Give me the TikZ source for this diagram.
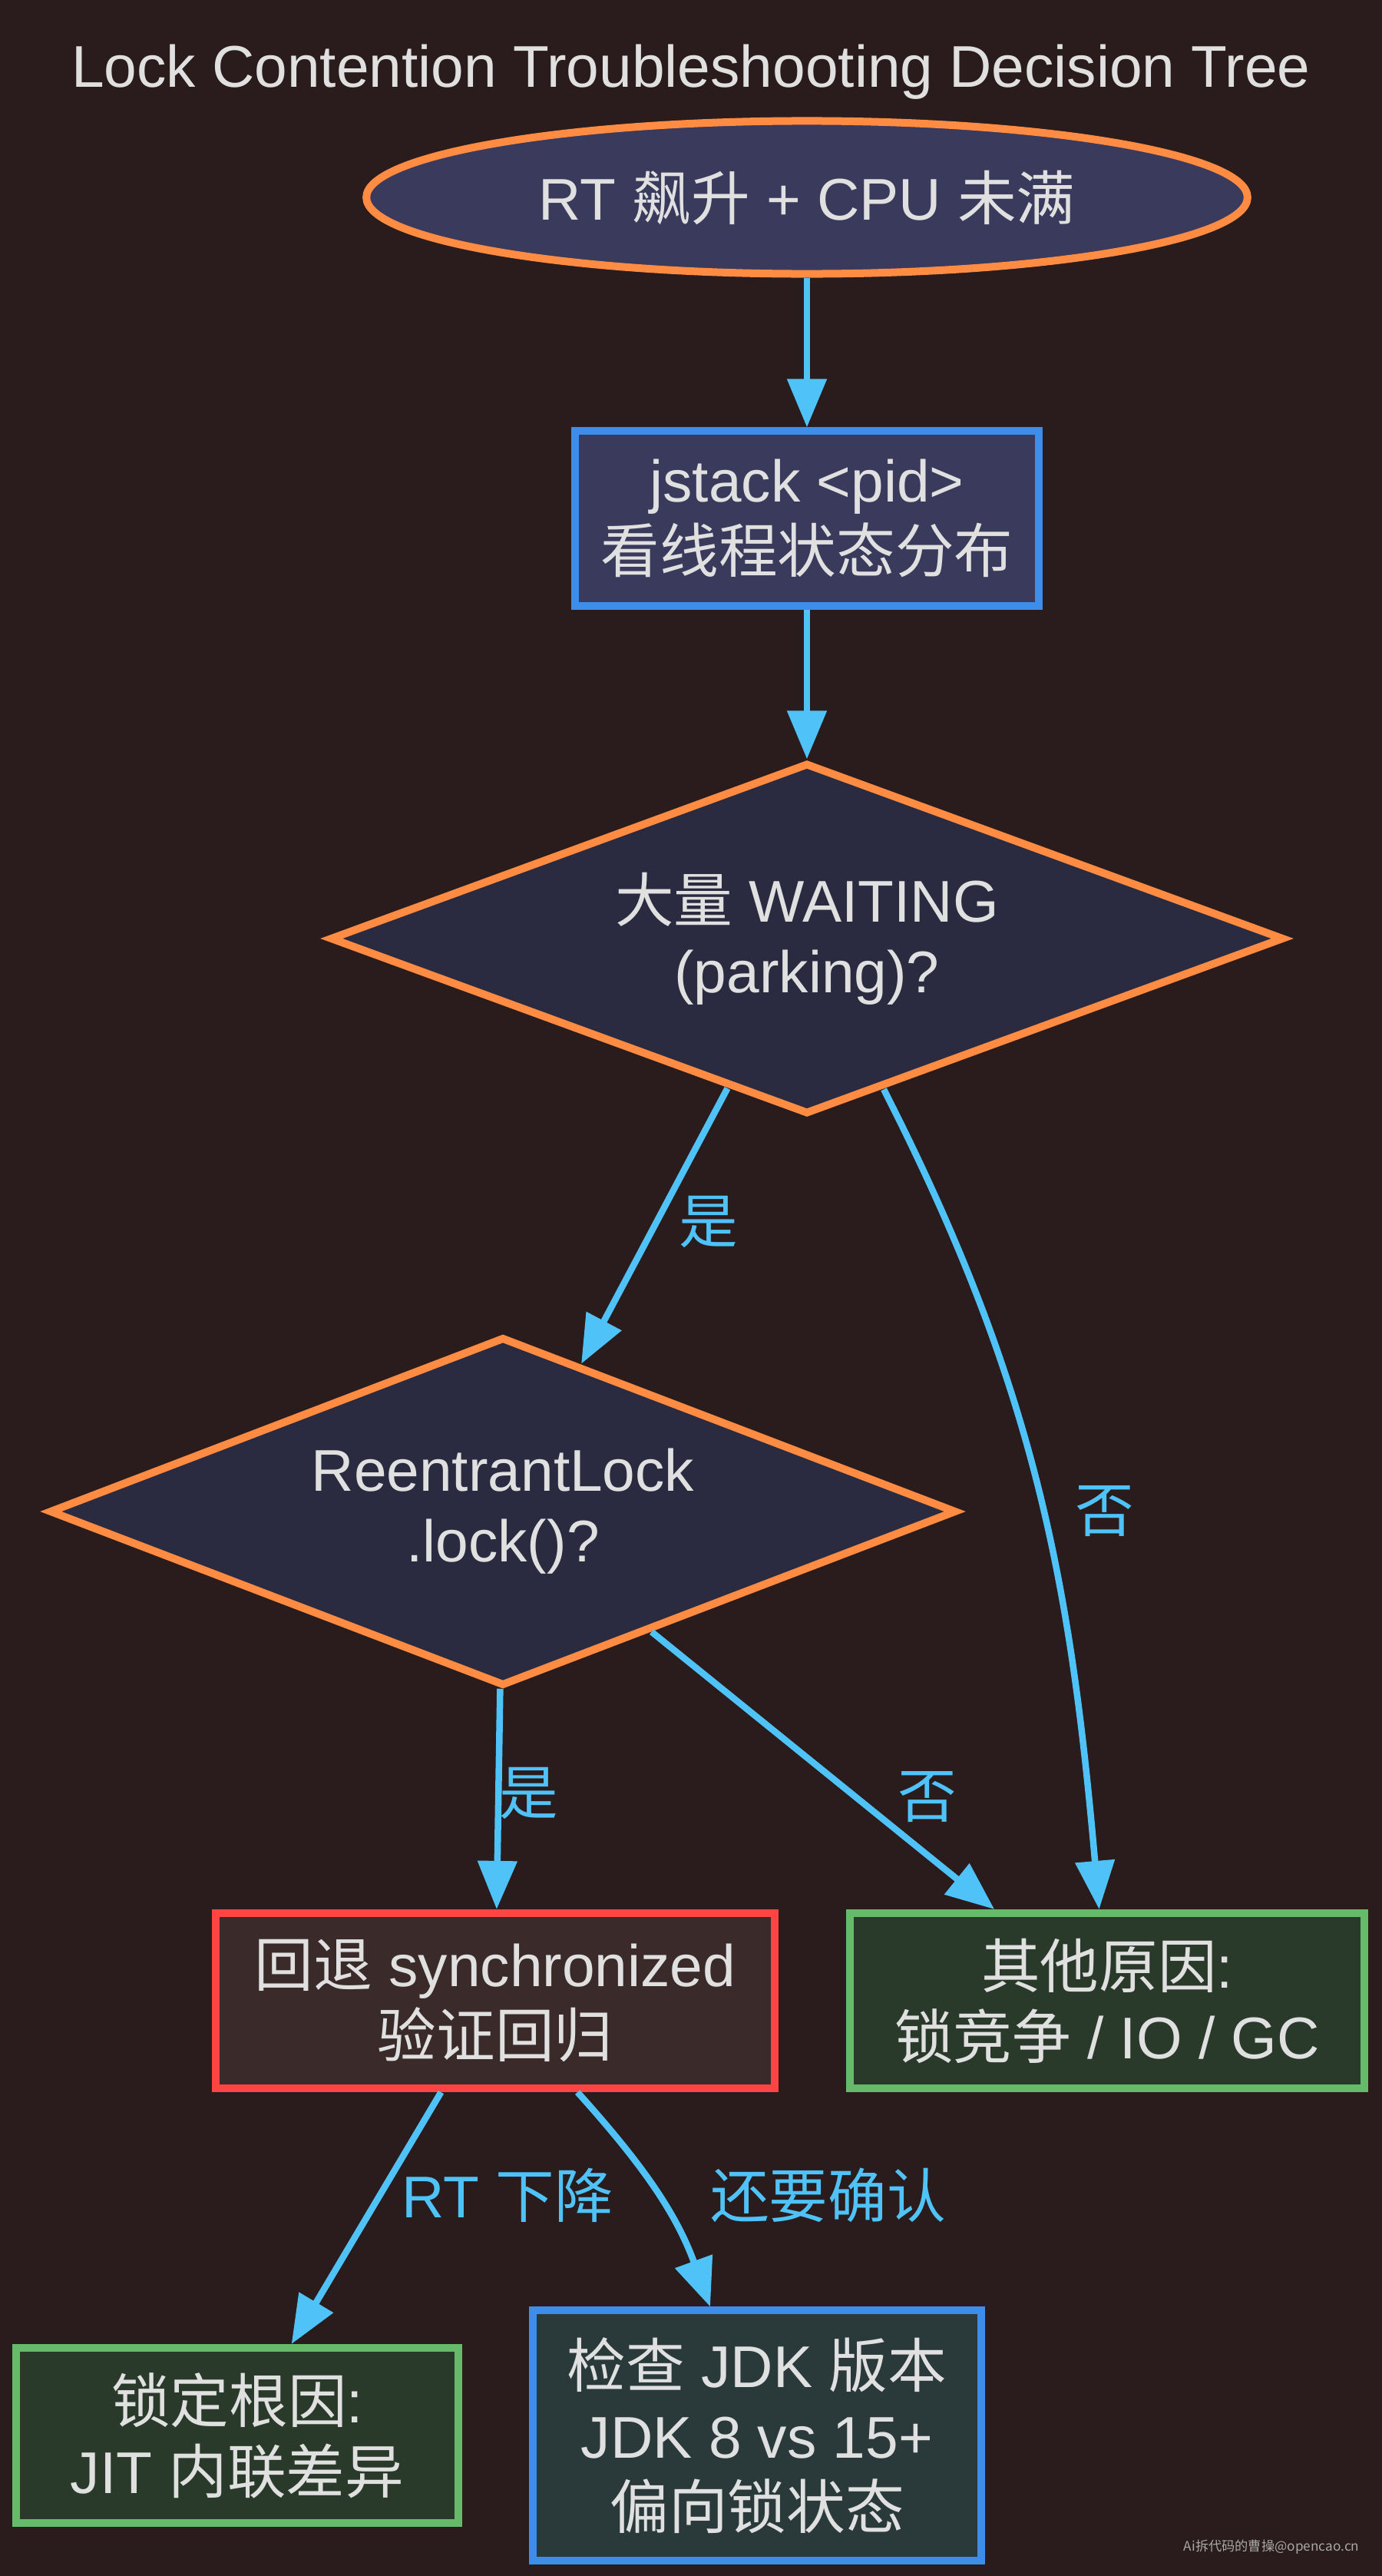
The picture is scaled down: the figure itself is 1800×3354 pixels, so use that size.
\documentclass[tikz,border=0pt]{standalone}
\usepackage{fontspec}
\setmainfont{Liberation Sans}
\newfontfamily\zhfont{Noto Sans CJK SC}
\newcommand{\zh}[1]{{\zhfont #1}}
\usetikzlibrary{arrows.meta,positioning,shapes.geometric}

\definecolor{bgdark}{HTML}{2A1B1C}
\definecolor{txtgray}{HTML}{E0E0E0}
\definecolor{markgray}{HTML}{A8A8A8}
\definecolor{edgeblue}{HTML}{4FC3F7}
\definecolor{lineorange}{HTML}{FF8C42}
\definecolor{lineblue}{HTML}{3D8EEA}
\definecolor{linered}{HTML}{FF4444}
\definecolor{linegreen}{HTML}{66BB6A}
\definecolor{fillnavy}{HTML}{3A3A5C}
\definecolor{filldiam}{HTML}{2A2A40}
\definecolor{fillred}{HTML}{3A2A2A}
\definecolor{fillgreen}{HTML}{2A3A2A}
\definecolor{fillteal}{HTML}{2A3A3A}

\begin{document}
\begin{tikzpicture}[
  x=0.01cm, y=0.01cm,
  every node/.style={text=txtgray, font=\fontsize{21.8pt}{26.2pt}\selectfont, inner sep=0pt, align=center},
  topell/.style={ellipse, draw=lineorange, fill=fillnavy, line width=0.1cm, minimum width=11.47cm, minimum height=1.99cm},
  procbox/.style={rectangle, draw=lineblue, fill=fillnavy, line width=0.1cm},
  decide/.style={diamond, shape aspect=2.6, draw=lineorange, fill=filldiam, line width=0.1cm},
  revertbox/.style={rectangle, draw=linered, fill=fillred, line width=0.1cm},
  okbox/.style={rectangle, draw=linegreen, fill=fillgreen, line width=0.1cm},
  checkbox/.style={rectangle, draw=lineblue, fill=fillteal, line width=0.1cm},
  arrow/.style={-{Triangle[length=0.63cm, width=0.5cm]}, draw=edgeblue, line width=0.085cm},
  edgelbl/.style={text=edgeblue},
]
\fill[bgdark] (0,0) rectangle (1800,-3354);
\useasboundingbox (0,0) rectangle (1800,-3354);

\node[anchor=base] (title) at (900,-113) {Lock Contention Troubleshooting Decision Tree};
\node[topell] (spike) at (1051,-257) {RT \zh{飙升} + CPU \zh{未满}};
\node[procbox, minimum width=6.03cm, minimum height=2.27cm] (jstack) at (1051,-675) {jstack <pid>\\\zh{看线程状态分布}};
\node[decide, minimum width=12.42cm, minimum height=4.57cm] (waiting) at (1051,-1222) {\zh{大量} WAITING\\(parking)?};
\node[decide, minimum width=11.81cm, minimum height=4.54cm] (reentrant) at (655,-1968) {ReentrantLock\\.lock()?};
\node[revertbox, minimum width=7.28cm, minimum height=2.28cm] (revert) at (645,-2605) {\zh{回退} synchronized\\\zh{验证回归}};
\node[okbox, minimum width=6.70cm, minimum height=2.28cm] (other) at (1442,-2605) {\zh{其他原因}:\\\zh{锁竞争} / IO / GC};
\node[okbox, minimum width=5.76cm, minimum height=2.28cm] (jit) at (309,-3171) {\zh{锁定根因}:\\JIT \zh{内联差异}};
\node[checkbox, minimum width=5.83cm, minimum height=3.25cm] (jdk) at (986,-3171) {\zh{检查} JDK \zh{版本}\\JDK 8 vs 15+\\\zh{偏向锁状态}};
\node[text=markgray, font=\zhfont\fontsize{4.9pt}{6pt}\selectfont, anchor=base east] (mark) at (1771,-3321) {Ai拆代码的曹操@opencao.cn};

\draw[arrow] (spike) -- (jstack);
\draw[arrow] (jstack) -- (waiting);
\draw[arrow] (waiting) -- node[edgelbl, xshift=0.70cm, yshift=0.05cm] {\zh{是}} (reentrant);
\draw[arrow] (waiting) to[out=-63, in=95] node[edgelbl, xshift=0.88cm, yshift=-0.32cm] {\zh{否}} (other);
\draw[arrow] (reentrant) -- node[edgelbl, xshift=0.40cm, yshift=0.07cm] {\zh{是}} (revert);
\draw[arrow] (reentrant) -- node[edgelbl, xshift=1.36cm, yshift=-0.34cm] {\zh{否}} (other);
\draw[arrow] (revert) -- node[edgelbl, xshift=1.84cm, yshift=0.30cm] {RT \zh{下降}} (jit);
\draw[arrow] (revert) to[out=-48, in=110] node[edgelbl, xshift=2.24cm, yshift=-0.04cm] {\zh{还要确认}} (jdk);
\end{tikzpicture}
\end{document}
